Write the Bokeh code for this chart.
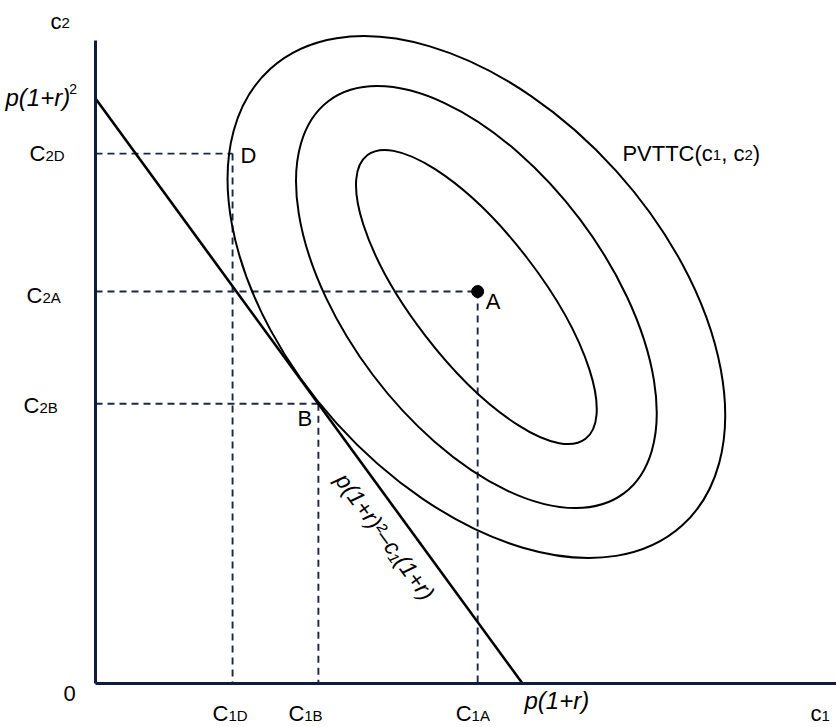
import math
from bokeh.plotting import figure
from bokeh.models import Range1d
from bokeh.core.properties import value
from bokeh.embed import file_html
from bokeh.resources import INLINE

# ---- model values (c1 on the horizontal axis, c2 on the vertical) ----
c1_intercept = 10.0          # p(1+r)
c2_intercept = 13.7          # p(1+r)^2

point_names = ["D", "B", "A"]
point_c1 = [3.21, 5.22, 8.95]
point_c2 = [12.41, 6.55, 9.18]

tick_c1_labels = ["1D", "1B", "1A"]     # subscripts under "C"
tick_c2_labels = ["2D", "2B", "2A"]

# iso-level ellipses of PVTTC(c1, c2)
ell_center_c1 = 8.92
ell_center_c2 = 9.05
ell_width = [8.38, 11.5, 14.4]
ell_height = [3.0, 6.07, 8.82]
ell_angle_deg = [-52.4, -53.0, -48.0]

# ---- layout ----
PX = 42.7                     # screen pixels per unit
W_PX, H_PX = 836, 727
ORIGIN_X, ORIGIN_Y = 95, 683  # where the axes meet, in pixels from the top-left
AXIS_TOP = 15.06
AXIS_RIGHT = (W_PX - ORIGIN_X) / PX

FONT = "Liberation Sans"
MAIN = 22
SUB = 15
BASE = -7                     # baseline correction applied to every text run
AXIS_COLOR = "#0f1d3a"
DASH_COLOR = "#1b2745"

p = figure(width=W_PX, height=H_PX,
           x_range=Range1d(-ORIGIN_X / PX, (W_PX - ORIGIN_X) / PX),
           y_range=Range1d(-(H_PX - ORIGIN_Y) / PX, ORIGIN_Y / PX),
           x_axis_type=None, y_axis_type=None,
           toolbar_location=None, output_backend="svg", min_border=0)
p.grid.visible = False
p.outline_line_color = None
p.background_fill_color = "white"
p.border_fill_color = "white"

# Arial-compatible advance widths (em) for laying out runs of text
ADV = {"C": 0.722, "c": 0.5, "P": 0.667, "V": 0.667, "T": 0.611, "(": 0.333,
       ")": 0.333, ",": 0.278, " ": 0.278, "p": 0.556, "1": 0.556, "2": 0.556,
       "+": 0.584, "r": 0.333, "A": 0.667, "B": 0.667, "D": 0.722, "0": 0.556}


def run_width(s, size):
    return sum(ADV.get(ch, 0.556) for ch in s) * size


def draw_runs(x, y, runs, dx, dy, style="normal"):
    """Draw pieces of text side by side; each run is (text, size, baseline shift)."""
    cx = dx
    for txt, size, shift in runs:
        p.text(x=[x], y=[y], text=[txt], x_offset=cx, y_offset=dy + shift + BASE,
               text_font=value(FONT), text_font_size=f"{size}px",
               text_font_style=style, text_align="left",
               text_baseline="alphabetic", text_color="black")
        cx += run_width(txt, size)


# dashed drop lines from each bundle to both axes
for c1, c2 in zip(point_c1, point_c2):
    p.segment(x0=[0, c1], y0=[c2, c2], x1=[c1, c1], y1=[c2, 0],
              line_color=DASH_COLOR, line_width=1.9, line_dash="7 5")

# ellipses
p.ellipse(x=[ell_center_c1] * 3, y=[ell_center_c2] * 3,
          width=ell_width, height=ell_height, angle=ell_angle_deg,
          angle_units="deg", fill_color=None, line_color="black", line_width=2)

# budget line
p.line(x=[0, c1_intercept], y=[c2_intercept, 0], line_color="black", line_width=2.6)

# axes
p.line(x=[0, 0], y=[0, AXIS_TOP], line_color=AXIS_COLOR, line_width=3)
p.line(x=[0, AXIS_RIGHT], y=[0, 0], line_color=AXIS_COLOR, line_width=3)

# bundle A marker
iA = point_names.index("A")
p.scatter(x=[point_c1[iA]], y=[point_c2[iA]], size=12, color="black")

# tick labels on the c1 axis
c1_label_dx = [-20, -30, -22]
for c1, sub, dx in zip(point_c1, tick_c1_labels, c1_label_dx):
    draw_runs(c1, 0, [("C", MAIN, 0), (sub, SUB, 1.5)], dx, 37)

# tick labels on the c2 axis
c2_label_dx = [-66, -72, -69]
c2_label_dy = [7, 9, 11]
for c2, sub, dx, dy in zip(point_c2, tick_c2_labels, c2_label_dx, c2_label_dy):
    draw_runs(0, c2, [("C", MAIN, 0), (sub, SUB, 1.5)], dx, dy)

# point names
name_dx = [8, -21, 8]
name_dy = [9, 22, 17]
for name, c1, c2, dx, dy in zip(point_names, point_c1, point_c2, name_dx, name_dy):
    draw_runs(c1, c2, [(name, MAIN, 0)], dx, dy)

# axis titles, origin and intercepts
draw_runs(0, AXIS_TOP, [("c", MAIN, 0), ("2", SUB, 2)], -45, -12)
draw_runs(AXIS_RIGHT, 0, [("c", MAIN, 0), ("1", SUB, 2)], -26, 37)
draw_runs(0, 0, [("0", MAIN, 0)], -32, 17)
draw_runs(0, c2_intercept, [("p(1+r)", 24, 0)], -90, 6, style="italic")
draw_runs(0, c2_intercept, [("2", 14, -9)], -90 + run_width("p(1+r)", 24) - 1, 6)
draw_runs(c1_intercept, 0, [("p(1+r)", 24, 0)], 2, 24, style="italic")

# level-curve name
draw_runs(ell_center_c1, ell_center_c2,
          [("PVTTC(c", MAIN, 0), ("1", SUB, 2), (", c", MAIN, 0), ("2", SUB, 2), (")", MAIN, 0)],
          146, -137)

# label along the budget line
slope_angle = math.atan2(c2_intercept, c1_intercept)
lab_c1 = 7.25
lab_c2 = c2_intercept - c2_intercept / c1_intercept * lab_c1
p.text(x=[lab_c1], y=[lab_c2], text=["p(1+r)\u00b2\u2013c\u2081(1+r)"], angle=-slope_angle,
       x_offset=-20, y_offset=14, text_align="center", text_baseline="middle",
       text_font=value(FONT), text_font_size="23px", text_font_style="italic",
       text_color="black")

open("out.html", "w").write(file_html(p, INLINE))
